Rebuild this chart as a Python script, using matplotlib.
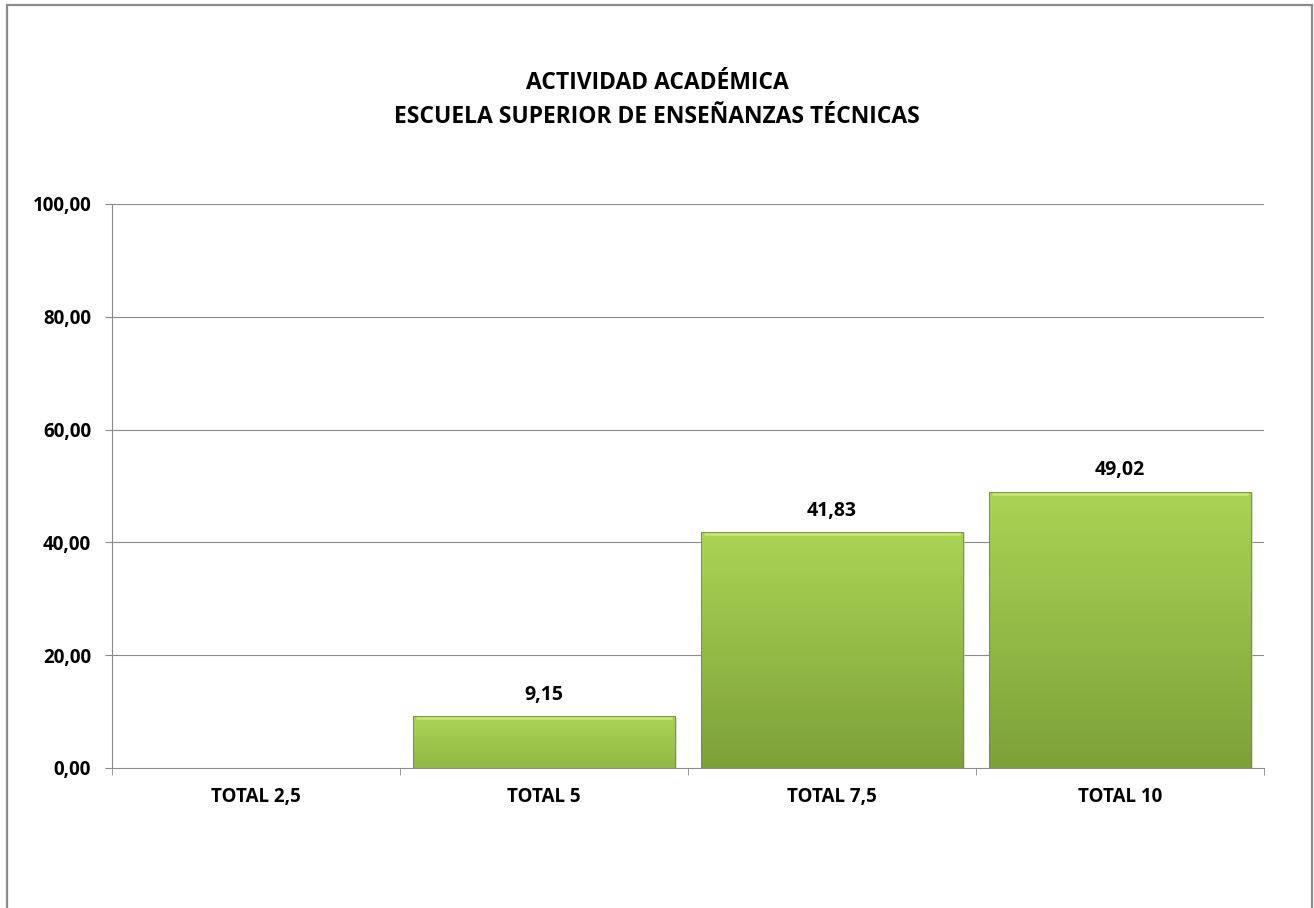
import numpy as np
import matplotlib.pyplot as plt
from matplotlib.patches import Rectangle

# data
categories = ["TOTAL 2,5", "TOTAL 5", "TOTAL 7,5", "TOTAL 10"]
values = [0.0, 9.15, 41.83, 49.02]
yticks = [0, 20, 40, 60, 80, 100]

title = "ACTIVIDAD ACADÉMICA\nESCUELA SUPERIOR DE ENSEÑANZAS TÉCNICAS"


def fmt(v):
    # spanish decimal comma
    return f"{v:.2f}".replace(".", ",")


def main():
    plt.rcParams["font.family"] = ["Open Sans", "DejaVu Sans"]
    fig = plt.figure(figsize=(13.14, 9.08), dpi=100)
    W, H = 1314, 908

    # plot area in pixels: x 112..1264, y 204..768
    ax = fig.add_axes([112 / W, 1 - 768 / H, (1264 - 112) / W, (768 - 204) / H])

    # outer chart border
    fig.patches.append(Rectangle((7 / W, -0.05), (1312 - 7) / W, (H - 5) / H + 0.05,
                                 transform=fig.transFigure, fill=False,
                                 edgecolor="#8c8c8c", linewidth=1.6))

    x = np.arange(len(categories))

    for yt in yticks[1:]:
        ax.axhline(yt, color="#8a8a8a", linewidth=0.8, zorder=0)

    # vertical gradient used inside every bar
    top = np.array([0.67, 0.83, 0.33])
    bot = np.array([0.49, 0.63, 0.22])

    width = 0.91
    for xi, v in zip(x, values):
        if v <= 0:
            continue
        # short bars only go part of the way down the gradient
        frac = min(1.0, 0.35 + v / 45.0)
        grad = np.linspace(1 - frac, 1, 256).reshape(256, 1, 1)
        img = bot + (top - bot) * grad
        # light shadow
        sh = Rectangle((xi - width / 2 + 0.008, 0), width, v - 0.25,
                       facecolor="#c8c8c8", edgecolor="none", alpha=0.6, zorder=1)
        ax.add_patch(sh)
        bar = Rectangle((xi - width / 2, 0), width, v, facecolor="none",
                        edgecolor="#6f8f2c", linewidth=0.6, zorder=3)
        ax.add_patch(bar)
        im = ax.imshow(img, extent=(xi - width / 2, xi + width / 2, 0, v),
                       origin="lower", aspect="auto", zorder=2)
        im.set_clip_path(bar)
        # bevel highlight on top edge
        ax.plot([xi - width / 2 + 0.01, xi + width / 2 - 0.01], [v - 0.35, v - 0.35],
                color="#c4e57a", linewidth=2.0, zorder=3, solid_capstyle="butt")
        ax.text(xi, v + 2.0, fmt(v), ha="center", va="bottom",
                fontsize=14, fontweight="bold", color="black")

    ax.set_aspect("auto")
    ax.set_xlim(-0.5, len(categories) - 0.5)
    ax.set_ylim(0, 100)

    ax.set_yticks(yticks)
    ax.set_yticklabels([fmt(t) for t in yticks], fontsize=13.5, fontweight="bold")
    ax.set_xticks(x)
    ax.set_xticklabels(categories, fontsize=13.5, fontweight="bold")
    ax.set_xticks(np.arange(len(categories) + 1) - 0.5, minor=True)
    ax.tick_params(axis="x", which="major", length=0, pad=14)
    ax.tick_params(axis="x", which="minor", length=5, color="#8a8a8a", direction="out")
    ax.tick_params(axis="y", length=5, color="#8a8a8a", pad=10)

    for side in ["top", "right"]:
        ax.spines[side].set_visible(False)
    ax.spines["left"].set_color("#8a8a8a")
    ax.spines["bottom"].set_color("#8a8a8a")

    fig.text(0.5, 1 - 100 / H, title, ha="center", va="center",
             fontsize=16.5, fontweight="bold", linespacing=1.55)

    fig.savefig("out.png", dpi=100, facecolor="white")


if __name__ == "__main__":
    main()
